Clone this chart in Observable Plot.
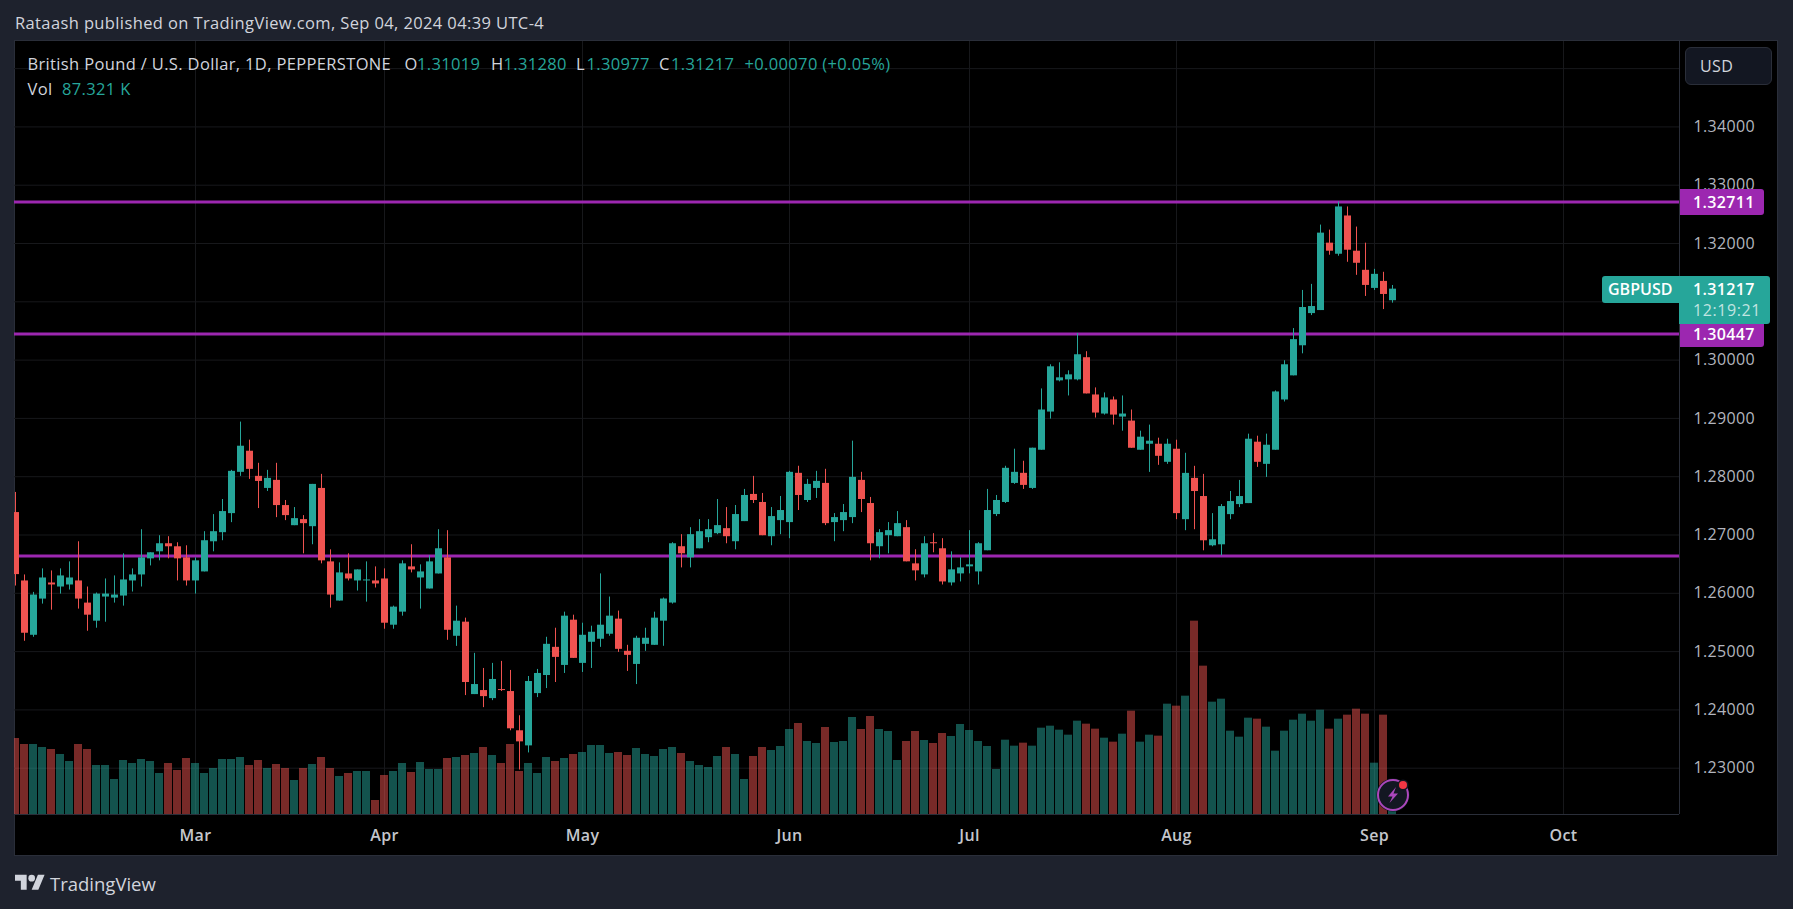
<!DOCTYPE html>
<html><head><meta charset="utf-8">
<script src="https://cdn.jsdelivr.net/npm/d3@7"></script>
<script src="https://cdn.jsdelivr.net/npm/@observablehq/plot@0.6"></script>
<style>
html,body{margin:0;padding:0;background:#1e222d;width:1793px;height:909px;overflow:hidden;font-family:"Open Sans",Lato,sans-serif}
#page{position:relative;width:1793px;height:909px}
.t{position:absolute;white-space:nowrap;line-height:20px}
#panel{position:absolute;left:14px;top:40px;width:1764px;height:816px;background:#000;box-sizing:border-box;border:1px solid #2a2e39}
#chart{position:absolute;left:0;top:41px}
#chart svg{display:block;background:transparent}
#chart svg text{letter-spacing:.35px}
.badge{position:absolute;color:#fff;text-align:left;box-sizing:border-box;font-size:16px;font-weight:600;letter-spacing:.35px;white-space:nowrap}
.wl{color:#d1d4dc}.tl{color:#26a69a}
</style></head>
<body><div id="page">
<div class="t" style="left:15px;top:13px;font-size:16.5px;letter-spacing:.38px;color:#d1d4dc">Rataash published on TradingView.com, Sep 04, 2024 04:39 UTC-4</div>
<div id="panel"></div>
<div id="chart"></div>
<div id="legend"></div>
<svg style="position:absolute;left:15px;top:873px" width="30" height="17" viewBox="0 0 36 20"><path fill="#d1d4dc" d="M14 20H7V9H0V2h14v18zM28 20h-8l7.5-18h8L28 20z"/><circle fill="#d1d4dc" cx="20" cy="6" r="4"/></svg>
<div class="t" style="left:50px;top:872px;font-size:18.5px;line-height:24px;color:#d1d4dc">TradingView</div>
<svg style="position:absolute;left:1373px;top:775px" width="40" height="40" viewBox="0 0 40 40">
<circle cx="20" cy="20" r="16.5" fill="#131722"/><circle cx="20" cy="20" r="15" fill="#131722" stroke="#ab47bc" stroke-width="2"/>
<path d="M23 12 L15 21.5 H19.5 L16.5 28 L25 18.5 H20.5 Z" fill="#ab47bc"/>
<circle cx="30" cy="10" r="5.5" fill="#131722"/><circle cx="30" cy="10" r="4" fill="#f23645"/></svg>
</div>
<script>
const highs=[1.27730,1.26315,1.26016,1.26419,1.26384,1.26419,1.26539,1.26884,1.26108,1.26005,
1.26246,1.26298,1.26677,1.26419,1.27091,1.26695,1.26988,1.26971,1.26867,1.26815,
1.26608,1.27057,1.27350,1.27609,1.28109,1.28937,1.28627,1.28230,1.28109,1.28230,
1.27592,1.27471,1.27333,1.27868,1.28040,1.26746,1.26522,1.26677,1.26401,1.26539,
1.26453,1.26419,1.25780,1.26557,1.26833,1.26488,1.26643,1.27091,1.27074,1.25780,
1.25574,1.24970,1.24711,1.24798,1.24832,1.24677,1.23900,1.24573,1.24694,1.25246,
1.25401,1.25677,1.25625,1.25487,1.25436,1.26333,1.25936,1.25695,1.25108,1.25263,
1.25401,1.25677,1.25919,1.26868,1.27006,1.27126,1.27264,1.27264,1.27609,1.27471,
1.27506,1.27782,1.28006,1.27713,1.27471,1.27661,1.28092,1.28179,1.27954,1.28092,
1.28127,1.27368,1.27523,1.28610,1.28075,1.27644,1.27092,1.27213,1.27402,1.27247,
1.26747,1.26971,1.27023,1.26937,1.26712,1.26609,1.27075,1.26868,1.27782,1.27678,
1.28179,1.28472,1.28265,1.28489,1.29506,1.29920,1.29954,1.29816,1.30455,1.30144,
1.29523,1.29437,1.29368,1.29385,1.29144,1.28781,1.28885,1.28661,1.28643,1.28626,
1.28402,1.28178,1.28040,1.27367,1.27522,1.27746,1.27936,1.28730,1.28695,1.28730,
1.29471,1.29989,1.30541,1.31195,1.31299,1.32316,1.32230,1.32711,1.32627,1.32282,
1.32006,1.31557,1.31506,1.31280];
const lows=[1.26125,1.25177,1.25246,1.25815,1.25711,1.25987,1.26056,1.25729,1.25349,1.25401,
1.25504,1.25832,1.25780,1.26022,1.26108,1.26470,1.26557,1.26591,1.26212,1.26125,
1.25987,1.26367,1.26712,1.26902,1.27212,1.28006,1.27954,1.27454,1.27747,1.27298,
1.27247,1.27160,1.26677,1.26833,1.26505,1.25746,1.25867,1.26212,1.26039,1.25849,
1.26091,1.25384,1.25384,1.25608,1.26350,1.25729,1.26074,1.26332,1.25194,1.25090,
1.24246,1.24263,1.24039,1.24159,1.24315,1.23642,1.22969,1.23262,1.24211,1.24366,
1.24470,1.24625,1.24884,1.24642,1.24711,1.25073,1.25263,1.24987,1.24660,1.24435,
1.25005,1.25108,1.25091,1.25815,1.26436,1.26436,1.26764,1.26868,1.27006,1.26850,
1.26747,1.27230,1.27540,1.26988,1.26816,1.27006,1.26937,1.27420,1.27558,1.27627,
1.27161,1.26885,1.27057,1.27195,1.27385,1.26557,1.26592,1.26678,1.26971,1.26540,
1.26212,1.26264,1.26695,1.26143,1.26126,1.26195,1.26333,1.26143,1.26730,1.27316,
1.27540,1.27868,1.27782,1.27782,1.28454,1.28988,1.29627,1.29385,1.29644,1.29420,
1.29006,1.29057,1.28885,1.28781,1.28488,1.28454,1.28074,1.28195,1.28212,1.27263,
1.27074,1.27091,1.26729,1.26798,1.26642,1.27263,1.27470,1.27539,1.28160,1.27988,
1.28454,1.29282,1.29730,1.30108,1.30764,1.30850,1.31799,1.31782,1.31678,1.31454,
1.31092,1.31195,1.30867,1.30977];
const opens=[1.27385,1.26212,1.25280,1.25901,1.26177,1.26108,1.26143,1.26212,1.25832,1.25522,
1.25936,1.25918,1.25953,1.26212,1.26315,1.26591,1.26712,1.26850,1.26798,1.26608,
1.26212,1.26367,1.26884,1.27040,1.27367,1.28075,1.28437,1.28006,1.27799,1.27937,
1.27505,1.27160,1.27264,1.27143,1.27799,1.26539,1.25867,1.26332,1.26212,1.26212,
1.26212,1.26246,1.25453,1.25677,1.26453,1.26263,1.26074,1.26332,1.26608,1.25263,
1.25505,1.24263,1.24332,1.24194,1.24349,1.24315,1.23642,1.23383,1.24280,1.24590,
1.25073,1.24763,1.25539,1.24798,1.25160,1.25212,1.25298,1.25557,1.25005,1.24780,
1.25125,1.25108,1.25522,1.25833,1.26799,1.26609,1.26764,1.26954,1.27023,1.27109,
1.26885,1.27230,1.27696,1.27558,1.26971,1.27247,1.27213,1.28058,1.27592,1.27799,
1.27885,1.27213,1.27247,1.27299,1.27937,1.27540,1.26799,1.26988,1.26971,1.27126,
1.26505,1.26316,1.26868,1.26764,1.26178,1.26333,1.26454,1.26367,1.26730,1.27351,
1.27558,1.27885,1.28058,1.27799,1.28454,1.29109,1.29644,1.29661,1.29661,1.30041,
1.29402,1.29075,1.29316,1.29023,1.28954,1.28454,1.28557,1.28557,1.28247,1.28471,
1.27263,1.27971,1.27660,1.26815,1.26832,1.27350,1.27522,1.27539,1.28592,1.28212,
1.28454,1.29316,1.29730,1.30246,1.30798,1.30850,1.32006,1.31816,1.32472,1.31868,
1.31540,1.31230,1.31350,1.31019];
const closes=[1.26321,1.25315,1.25970,1.26263,1.26143,1.26298,1.26263,1.25901,1.25625,1.25987,
1.25987,1.25970,1.26229,1.26315,1.26608,1.26695,1.26850,1.26798,1.26591,1.26212,
1.26557,1.26902,1.27057,1.27402,1.28092,1.28523,1.28126,1.27919,1.27971,1.27505,
1.27333,1.27281,1.27195,1.27868,1.26557,1.25970,1.26350,1.26246,1.26401,1.26229,
1.26160,1.25487,1.25763,1.26505,1.26401,1.26367,1.26539,1.26764,1.25366,1.25522,
1.24470,1.24435,1.24228,1.24522,1.24332,1.23676,1.23452,1.24487,1.24625,1.25125,
1.24901,1.25608,1.24884,1.25280,1.25332,1.25453,1.25608,1.25039,1.24936,1.25229,
1.25229,1.25574,1.25902,1.26850,1.26678,1.27006,1.27057,1.27092,1.27161,1.26971,
1.27351,1.27678,1.27592,1.26988,1.27316,1.27420,1.28075,1.27678,1.27868,1.27920,
1.27195,1.27299,1.27385,1.27989,1.27609,1.26850,1.27040,1.27075,1.27195,1.26540,
1.26385,1.26850,1.26850,1.26195,1.26402,1.26436,1.26488,1.26850,1.27420,1.27592,
1.28144,1.28075,1.27851,1.28489,1.29144,1.29885,1.29696,1.29747,1.30092,1.29420,
1.29092,1.29351,1.29057,1.29075,1.28488,1.28678,1.28609,1.28350,1.28557,1.27367,
1.28057,1.27746,1.26901,1.26918,1.27488,1.27574,1.27660,1.28643,1.28247,1.28540,
1.29454,1.29920,1.30351,1.30902,1.30919,1.32178,1.31868,1.32627,1.31885,1.31661,
1.31281,1.31471,1.31126,1.31217];
// volume in thousands
const volumes=[228,210,210,201,195,180,159,210,195,147,147,105,162,153,165,159,123,153,132,168,
153,123,138,165,165,171,147,162,138,150,138,102,138,150,171,138,114,123,129,129,
42,117,129,153,126,156,135,135,168,171,177,183,201,177,153,210,129,153,123,171,
159,168,180,186,207,207,183,186,177,198,180,174,195,201,183,159,147,141,174,201,
180,105,174,201,192,204,255,273,219,213,261,216,219,291,255,294,255,249,162,219,
249,222,213,243,234,270,252,219,204,135,223,205,214,205,259,265,253,238,280,271,
256,229,217,241,310,217,238,235,331,325,355,580,445,337,346,250,232,289,286,262,
190,250,283,301,280,313,256,286,298,316,301,154,298,87.321];
const levels=[1.26638,1.30447,1.32711];
const priceTicks=[1.23,1.24,1.25,1.26,1.27,1.28,1.29,1.30,1.32,1.33,1.34];
const gridPrices=[...priceTicks,1.31,1.35];
const monthIndex=[20,41,63,86,106,129,151,172];
const monthLabels=["Mar","Apr","May","Jun","Jul","Aug","Sep","Oct"];

const UP="#26a69a",DOWN="#ef5350",PURPLE="#9c27b0",GRID="#17181b",AXIS="#2a2e39",LABEL="#b2b5be";
const priceMin=1.22206,priceMax=1.35465;
const volPerPrice=17490; // thousands of lots per unit of price in the lower pane
const bars=highs.map((h,i)=>({i,high:h,low:lows[i],open:opens[i],close:closes[i],vol:volumes[i],col:closes[i]>=opens[i]?UP:DOWN}));
const font="'Open Sans', Lato, sans-serif";

const chart=Plot.plot({
  width:1793,height:814,marginLeft:14,marginRight:114,marginTop:0,marginBottom:41,
  x:{domain:[-1/9,1664/9],axis:null},
  y:{domain:[priceMin,priceMax],axis:null},
  style:{background:"transparent",fontFamily:font,overflow:"visible"},
  marks:[
    Plot.ruleX(monthIndex,{stroke:GRID,strokeWidth:1}),
    Plot.ruleY(gridPrices,{stroke:GRID,strokeWidth:1}),
    Plot.rect(bars,{x1:d=>d.i-4/9,x2:d=>d.i+4/9,y1:priceMin,y2:d=>priceMin+d.vol/volPerPrice,fill:"col",fillOpacity:0.5,clip:"frame"}),
    Plot.ruleY(levels,{stroke:PURPLE,strokeWidth:3}),
    Plot.ruleX(bars,{x:"i",y1:"low",y2:"high",stroke:"col",strokeWidth:1,clip:"frame"}),
    Plot.rect(bars,{x1:d=>d.i-3/9,x2:d=>d.i+4/9,y1:"open",y2:"close",fill:"col",clip:"frame"}),
    Plot.ruleX([1664/9],{stroke:AXIS,strokeWidth:1}),
    Plot.ruleY([priceMin],{stroke:AXIS,strokeWidth:1}),
    Plot.axisY(priceTicks,{anchor:"right",tickSize:0,tickPadding:14,tickFormat:d3.format(".5f"),fill:LABEL,fontSize:16,label:null}),
    Plot.axisX(monthIndex,{anchor:"bottom",tickSize:0,tickPadding:15,tickFormat:d=>monthLabels[monthIndex.indexOf(d)],fill:"#c4c6cc",fontSize:16,fontWeight:600,label:null})
  ]
});
document.getElementById("chart").append(chart);

const page=document.getElementById("page");
const yPage=p=>41+chart.scale("y").apply(p);
function box(css,html){const d=document.createElement("div");d.className="badge";d.style.cssText+=css;d.innerHTML=html;page.append(d);return d;}
for(const lv of [1.32711,1.30447]){
  const c=yPage(lv)+0.5;
  box(`left:1680px;top:${c-13.3}px;width:84px;height:26.7px;line-height:26.7px;background:${PURPLE};border-radius:0 3px 3px 0;padding-left:13px`,d3.format(".5f")(lv));
}
box(`left:1679px;top:276px;width:91px;height:47.7px;background:${UP};border-radius:0 3px 3px 0;padding-left:14px;line-height:27px`,`1.31217<div style="font-weight:400;color:rgba(255,255,255,.72);line-height:15px;font-size:16px;letter-spacing:.6px">12:19:21</div>`);
box(`left:1602px;top:276px;width:77px;height:27px;line-height:27px;background:${UP};border-radius:3px 0 0 3px;padding-left:6px;font-weight:600;letter-spacing:0`,"GBPUSD");
box(`left:1685px;top:47px;width:86.5px;height:38px;line-height:36px;background:#131722;border:1px solid #2a2e39;border-radius:6px;padding-left:14px;font-weight:400;color:#d1d4dc`,"USD");

const legend=[
 [27.5,54,"wl","British Pound / U.S. Dollar, 1D, PEPPERSTONE"],
 [404.5,54,"wl","O"],[417,54,"tl","1.31019"],
 [491,54,"wl","H"],[503.5,54,"tl","1.31280"],
 [576,54,"wl","L"],[586.5,54,"tl","1.30977"],
 [659,54,"wl","C"],[671,54,"tl","1.31217"],
 [744.5,54,"tl","+0.00070 (+0.05%)"],
 [27.5,79,"wl","Vol"],[62,79,"tl","87.321 K"]];
const lg=document.getElementById("legend");
for(const [x,y,c,s] of legend){const d=document.createElement("div");d.className="t "+c;d.style.cssText=`left:${x}px;top:${y}px;font-size:16.5px;letter-spacing:.35px`;d.textContent=s;lg.append(d);}
</script></body></html>
